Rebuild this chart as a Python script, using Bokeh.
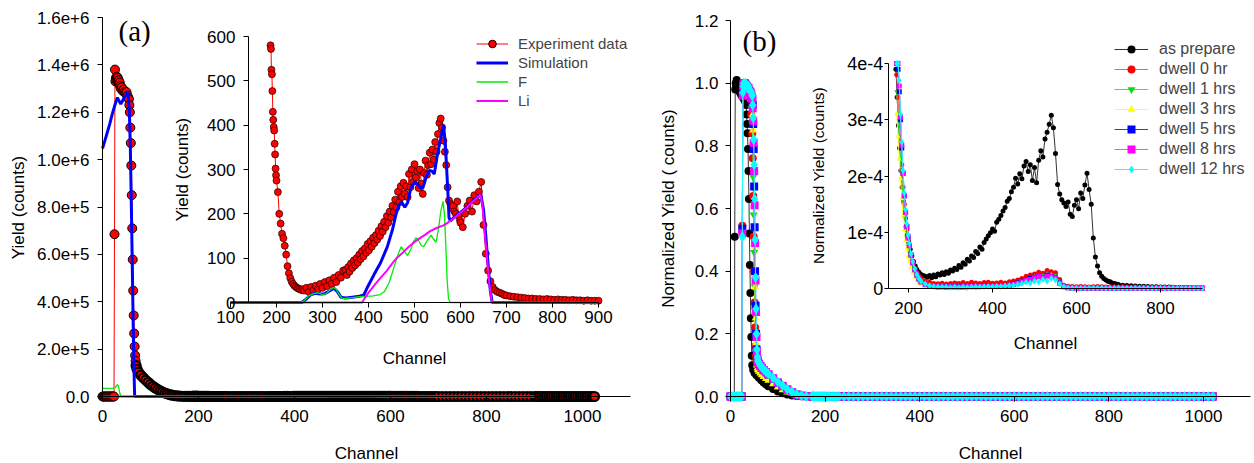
import math
from bokeh.plotting import figure
from bokeh.models import Range1d, LinearAxis, FixedTicker, Label, Legend, LegendItem
from bokeh.layouts import row
from bokeh.embed import file_html
from bokeh.resources import INLINE

FONT = "Liberation Sans"
SERIF = "Liberation Serif"

# ====================== Panel (a) data ======================
a_head_ch = [0, 2, 4, 6, 8, 10, 12, 14, 16, 18, 20, 22, 24,
             25, 26, 27, 28, 29, 30, 31, 32, 33, 34, 35, 36, 37, 38,
             40, 42, 44, 46, 48, 50, 52, 54,
             55, 56, 57, 58, 59, 60, 61, 62, 63, 64, 65, 66, 67, 68, 69, 70,
             72, 75,
             80, 85, 90, 95, 100, 105, 110, 115, 120, 125, 130, 135, 140, 145, 150, 155, 160, 165, 170, 175, 180,
             184]
a_head_y = [0, 0, 0, 0, 0, 0, 0, 0, 0, 0, 0, 0, 0,
            6.85e5, 1.38e6, 1.33e6, 1.345e6, 1.335e6, 1.35e6, 1.34e6, 1.345e6, 1.33e6, 1.335e6, 1.32e6, 1.325e6, 1.31e6, 1.30e6,
            1.305e6, 1.29e6, 1.295e6, 1.285e6, 1.28e6, 1.285e6, 1.27e6, 1.26e6,
            1.255e6, 1.23e6, 1.2e6, 1.135e6, 1.07e6, 9.75e5, 8.5e5, 7.1e5, 5.78e5, 4.47e5, 3.42e5, 2.66e5, 2.11e5, 1.73e5, 1.5e5, 1.3e5,
            1.15e5, 1.03e5,
            9.0e4, 7.9e4, 6.9e4, 6.0e4, 5.1e4, 4.3e4, 3.6e4, 3.0e4, 2.4e4, 1.9e4, 1.45e4, 1.1e4, 8.0e3, 5.5e3, 3.8e3, 2.5e3, 1.6e3, 1.1e3, 850, 720, 640,
            600]

exp_in_ch = (list(range(187, 200)) + list(range(200, 260, 3)) + list(range(260, 350, 5))
             + list(range(350, 600, 3)) + list(range(600, 700, 5)) + list(range(700, 901, 8)))
exp_in_y = [580, 572, 525, 515, 477, 430, 412, 396, 388, 358, 334, 302, 287,
            275, 249, 200, 178, 155, 145, 128, 108, 82, 66, 55, 47, 42, 38, 35, 33, 31, 30, 28, 30,
            27, 33, 24, 35, 27, 38, 30, 42, 33, 46, 37, 50, 42, 56, 46, 62, 56, 72,
            74, 62, 80, 70, 88, 78, 95, 84, 100, 90,
            108, 98, 116, 104, 122, 112, 132, 118, 138, 126,
            146, 134, 152, 142, 162, 150, 172, 160, 182, 170,
            195, 180, 205, 192, 218, 204, 232, 215, 250, 226,
            262, 238, 270, 245, 262, 238, 290, 260, 300, 272,
            312, 282, 296, 258, 300, 268, 245, 292, 320, 288,
            310, 338, 312, 345, 322, 362, 340, 380, 405, 415,
            395, 365, 340, 310, 260, 230, 222, 212, 218, 205,
            200, 228, 195, 185,
            180, 170, 200, 218, 230, 205, 242, 228, 250, 272,
            175, 110, 72, 48, 35, 28, 24, 22, 20, 17,
            16, 14, 13, 12, 11, 10, 9, 9, 8, 8, 7, 8, 7, 6, 7, 6, 6, 5, 6, 5, 5, 4, 5, 4, 4, 4]
a_tail_ch = list(range(905, 1026, 5))
a_tail_y = [4, 3, 4, 3, 3, 4, 3, 3, 2, 3, 3, 2, 3, 2, 2, 3, 2, 2, 2, 3, 2, 2, 2, 2, 2]

sim_head_ch = [0, 5, 10, 15, 20, 25, 31, 34, 38, 41, 45, 48, 52, 54, 56, 58, 60, 62, 64, 66, 67, 70]
sim_head_y = [1.047e6, 1.08e6, 1.115e6, 1.15e6, 1.19e6, 1.225e6, 1.262e6, 1.25e6, 1.235e6, 1.245e6, 1.262e6,
              1.27e6, 1.283e6, 1.265e6, 1.2e6, 1.05e6, 8.2e5, 5.6e5, 3.0e5, 8e4, 0, 0]
sim_in_ch = [100, 255, 265, 275, 285, 295, 305, 315, 325, 332,
             340, 350, 365, 380, 390, 398, 412, 426, 441, 452,
             460, 467, 472, 479, 485, 492, 500, 506, 512, 518,
             525, 532, 538, 543, 550, 556, 563, 567, 570, 573,
             575, 578, 590, 600, 610, 620, 630, 640, 644, 650,
             655, 660, 665, 669, 700, 900]
sim_in_y = [0, 0, 8, 18, 21, 19, 20, 26, 32, 25,
            12, 10, 12, 14, 17, 35, 63, 89, 126, 164,
            200, 222, 226, 215, 225, 258, 272, 268, 260, 258,
            282, 298, 296, 290, 335, 365, 400, 360, 300, 240,
            192, 184, 196, 203, 212, 222, 231, 240, 244, 210,
            150, 85, 25, 0, 0, 0]

f_head_ch = [0, 10, 20, 26, 29, 31, 33, 35, 37, 39, 45]
f_head_y = [3.4e4, 3.4e4, 3.5e4, 3.6e4, 4.5e4, 5.0e4, 4.6e4, 2.5e4, 8e3, 0, 0]
f_in_ch = [100, 255, 262, 270, 280, 290, 300, 308, 316, 324,
           330, 336, 342, 350, 365, 380, 395, 410, 425, 435,
           445, 455, 463, 471, 478, 485, 492, 498, 503, 510,
           515, 520, 528, 536, 542, 547, 552, 557, 562, 565,
           568, 571, 574, 578, 900]
f_in_y = [0, 0, 6, 15, 20, 22, 18, 20, 28, 34,
          30, 18, 10, 9, 11, 13, 14, 15, 18, 25,
          45, 78, 105, 126, 115, 106, 120, 138, 146, 138,
          128, 126, 140, 152, 142, 136, 165, 205, 228, 200,
          130, 50, 8, 0, 0]

li_head_ch = [0, 50]
li_head_y = [0, 0]
li_in_ch = [100, 386, 392, 400, 410, 420, 430, 440, 450, 462,
            475, 487, 498, 510, 522, 534, 548, 563, 575, 585,
            595, 605, 614, 624, 634, 643, 647, 651, 655, 659,
            663, 667, 670, 900]
li_in_y = [0, 0, 10, 22, 35, 48, 60, 72, 86, 101,
           113, 125, 135, 144, 152, 161, 168, 174, 182, 190,
           198, 207, 215, 225, 234, 243, 225, 180, 130, 85,
           40, 8, 0, 0]

a_xticks = [0, 200, 400, 600, 800, 1000]
a_yticks = [0, 200000, 400000, 600000, 800000, 1000000, 1200000, 1400000, 1600000]
a_ytick_labels = ["0.0", "2.0e+5", "4.0e+5", "6.0e+5", "8.0e+5", "1.0e+6", "1.2e+6", "1.4e+6", "1.6e+6"]
a_in_xticks = [100, 200, 300, 400, 500, 600, 700, 800, 900]
a_in_yticks = [0, 100, 200, 300, 400, 500, 600]

# ====================== Panel (b) data ======================
prep_head_ch = [0, 2, 4, 6, 8, 9, 10, 11, 12, 13, 14, 15, 16, 17, 18, 19, 20, 22, 24, 26, 28, 30, 32,
                33, 34, 35, 36, 37, 38, 39, 40, 41, 42, 43, 44, 45, 46,
                48, 51, 55, 60, 65, 70, 75, 80, 90, 100, 110, 120, 130, 140, 150, 160]
prep_head_y = [0, 0, 0, 0, 0, 0.51, 0.98, 1.0, 0.99, 1.01, 0.985, 1.0, 0.99, 0.985, 0.98, 0.975, 0.97,
               0.965, 0.96, 0.955, 0.95, 0.945, 0.94,
               0.93, 0.90, 0.87, 0.84, 0.79, 0.72, 0.63, 0.52, 0.42, 0.33, 0.25, 0.19, 0.13, 0.10,
               0.085, 0.075, 0.068, 0.06, 0.052, 0.045, 0.039, 0.033,
               0.024, 0.016, 0.010, 0.006, 0.003, 0.0015, 0.0008, 0.0005]
prep_in_ch = [170, 173, 176, 179, 182, 185, 188, 191, 194, 197, 200, 204, 208, 212, 216, 220, 225, 230, 235] \
    + list(range(240, 700, 5)) + list(range(700, 901, 10))
prep_in_e5 = [39, 34, 29, 25, 21, 18, 15.5, 13, 11, 9.5, 8.3, 7, 5.8, 4.8, 4.0, 3.4, 2.9, 2.5, 2.3,
              2.2, 2.0, 2.3, 1.9, 2.4, 2.1, 2.6, 2.4, 2.8, 2.5,
              3.0, 2.7, 3.3, 3.1, 3.6, 3.4, 4.1, 3.8, 4.6, 4.3,
              5.2, 4.9, 5.8, 5.5, 6.6, 6.2, 7.4, 7.0, 8.2, 8.8,
              9.4, 9.9, 10.6, 10.2, 11.8, 12.3, 13.0, 13.8, 14.4, 15.5,
              16.0, 17.2, 18.0, 19.6, 18.6, 20.4, 19.5, 21.8, 22.6, 20.8,
              22.0, 19.2, 21.5, 18.8, 22.8, 24.5, 23.4, 26.6, 27.8, 29.2,
              30.8, 28.6, 24.0, 18.5, 16.8, 15.8, 15.2, 14.6, 15.4, 13.2,
              12.8, 14.8, 15.8, 14.2, 17.0, 16.0, 18.4, 20.5, 17.6, 15.0,
              9.0, 5.6, 4.0, 2.8, 2.2, 1.8, 1.5, 1.3, 1.2, 1.0,
              0.9, 0.8,
              0.7, 0.6, 0.55, 0.5, 0.45, 0.4, 0.38, 0.35, 0.3, 0.3, 0.28, 0.25, 0.25, 0.22, 0.2, 0.2, 0.18, 0.18,
              0.15, 0.15, 0.15]

dw_head_ch = [0, 3, 6, 9, 12, 15, 18, 21, 24, 25, 26, 27, 28, 30, 32, 34, 36, 38, 40, 42, 44, 46,
              47, 48, 49, 50, 51, 52, 53, 54, 55, 56, 57, 58, 60, 63, 66, 70, 75, 80,
              90, 100, 110, 120, 130, 140, 150, 160]
dw_in_ch = [172, 175, 178, 181, 184, 187, 190, 193, 196, 199, 202, 206, 210, 215, 220, 225, 230] + list(range(240, 901, 10))
b_tail_ch = list(range(910, 1021, 10))
prep_tail_e5 = [0.14, 0.12, 0.12, 0.1, 0.1, 0.1, 0.08, 0.08, 0.08, 0.06, 0.06, 0.06]

red_head_y = [0, 0, 0, 0, 0, 0, 0, 0, 0, 0.545, 0.98, 1.0, 0.99,
              0.995, 0.99, 0.985, 0.98, 0.97, 0.965, 0.95, 0.90, 0.84,
              0.76, 0.64, 0.51, 0.40, 0.30, 0.22, 0.16, 0.13, 0.115, 0.105, 0.10, 0.097,
              0.093, 0.088, 0.083, 0.077, 0.07, 0.064,
              0.052, 0.04, 0.03, 0.02, 0.012, 0.006, 0.0025, 0.001]
red_in_e5 = [38, 34, 30, 26, 22, 18, 15, 12.5, 10.5, 8.8, 7.4, 5.9, 4.7, 3.6, 2.8, 2.2, 1.8,
             1.3, 1.1, 0.9, 0.85, 0.95, 0.8, 0.9, 1.0, 0.9, 1.05,
             0.9, 1.1, 1.0, 0.9, 1.05, 1.1, 0.95, 1.0, 1.1, 1.0,
             1.2, 1.35, 1.5, 1.8, 2.2, 2.4, 2.6, 2.9, 2.7, 3.2,
             3.0, 2.8, 1.6, 0.6, 0.4, 0.35, 0.3, 0.35, 0.3, 0.25,
             0.3, 0.35, 0.3, 0.25, 0.3, 0.3, 0.25, 0.3, 0.25, 0.2,
             0.25, 0.2, 0.25, 0.2, 0.2, 0.25, 0.2, 0.2, 0.15, 0.2,
             0.2, 0.15, 0.2, 0.15, 0.15, 0.15, 0.15]
red_tail_e5 = [0.15, 0.15, 0.12, 0.15, 0.12, 0.1, 0.12, 0.1, 0.1, 0.1, 0.08, 0.1]

green_head_y = [0, 0, 0, 0, 0, 0, 0, 0, 0, 0.53, 0.97, 0.99, 0.985,
                0.99, 0.985, 0.98, 0.975, 0.97, 0.96, 0.95, 0.92, 0.87,
                0.80, 0.70, 0.58, 0.46, 0.35, 0.26, 0.19, 0.14, 0.115, 0.1, 0.095, 0.09,
                0.087, 0.082, 0.078, 0.072, 0.066, 0.06,
                0.048, 0.037, 0.027, 0.018, 0.01, 0.005, 0.002, 0.0008]
green_in_e5 = [35, 31, 27, 23, 19.5, 16, 13, 10.8, 9, 7.5, 6.3, 5, 3.9, 2.9, 2.1, 1.5, 1.1,
               0.7, 0.5, 0.4, 0.45, 0.4, 0.5, 0.45, 0.5, 0.4, 0.5,
               0.45, 0.5, 0.55, 0.5, 0.45, 0.55, 0.5, 0.6, 0.55, 0.6,
               0.75, 0.9, 1.1, 1.4, 1.8, 1.9, 2.2, 2.4, 2.3, 2.6,
               2.5, 2.3, 1.2, 0.4, 0.2, 0.15, 0.12, 0.15, 0.12, 0.1,
               0.12, 0.1, 0.12, 0.1, 0.08, 0.1, 0.08, 0.1, 0.08, 0.08,
               0.08, 0.06, 0.08, 0.06, 0.07, 0.06, 0.06, 0.05, 0.06, 0.05,
               0.05, 0.06, 0.05, 0.05, 0.04, 0.05, 0.04]
green_tail_e5 = [0.04, 0.05, 0.04, 0.04, 0.03, 0.04, 0.03, 0.03, 0.03, 0.02, 0.03, 0.02]

yellow_head_y = [0, 0, 0, 0, 0, 0, 0, 0, 0, 0.52, 0.96, 0.985, 0.99,
                 0.985, 0.98, 0.975, 0.97, 0.965, 0.96, 0.955, 0.95, 0.93,
                 0.9, 0.85, 0.73, 0.61, 0.48, 0.35, 0.25, 0.17, 0.12, 0.1, 0.09, 0.085,
                 0.08, 0.074, 0.069, 0.063, 0.057, 0.051,
                 0.04, 0.03, 0.021, 0.014, 0.008, 0.004, 0.0015, 0.0006]
yellow_in_e5 = [31, 27, 23, 19.5, 16, 13, 10.5, 8.5, 7, 5.8, 4.8, 3.7, 2.8, 2.0, 1.4, 1.0, 0.7,
                0.4, 0.25, 0.2, 0.15, 0.2, 0.15, 0.2, 0.15, 0.2, 0.2,
                0.2, 0.25, 0.2, 0.25, 0.3, 0.25, 0.3, 0.35, 0.3, 0.4,
                0.5, 0.7, 0.9, 1.2, 1.5, 1.7, 2.0, 2.2, 2.1, 2.5,
                2.4, 2.1, 1.0, 0.3, 0.12, 0.08, 0.06, 0.08, 0.06, 0.05,
                0.06, 0.05, 0.06, 0.05, 0.04, 0.05, 0.04, 0.05, 0.04, 0.04,
                0.04, 0.03, 0.04, 0.03, 0.04, 0.03, 0.03, 0.03, 0.03, 0.02,
                0.03, 0.02, 0.03, 0.02, 0.02, 0.02, 0.02]
yellow_tail_e5 = [0.02, 0.02, 0.02, 0.01, 0.02, 0.01, 0.01, 0.01, 0.01, 0.01, 0.01, 0.01]

blue_head_y = [0, 0, 0, 0, 0, 0, 0, 0, 0, 0.535, 0.97, 1.0, 0.995,
               1.0, 0.995, 0.99, 0.985, 0.98, 0.975, 0.97, 0.96, 0.95,
               0.93, 0.87, 0.79, 0.67, 0.54, 0.40, 0.29, 0.20, 0.15, 0.125, 0.115, 0.11,
               0.104, 0.097, 0.091, 0.084, 0.077, 0.07,
               0.057, 0.044, 0.033, 0.022, 0.013, 0.006, 0.0025, 0.001]
blue_in_e5 = [40, 39, 35, 30, 25, 20.5, 16.5, 13.5, 11, 9.2, 7.7, 6, 4.6, 3.4, 2.4, 1.7, 1.2,
              0.7, 0.45, 0.35, 0.3, 0.35, 0.3, 0.35, 0.3, 0.35, 0.3,
              0.35, 0.4, 0.35, 0.4, 0.45, 0.4, 0.5, 0.45, 0.5, 0.55,
              0.6, 0.8, 1.0, 1.3, 1.6, 1.8, 2.0, 2.2, 2.0, 2.4,
              2.2, 2.0, 1.0, 0.35, 0.15, 0.1, 0.08, 0.1, 0.08, 0.08,
              0.08, 0.06, 0.08, 0.06, 0.07, 0.06, 0.05, 0.06, 0.05, 0.05,
              0.05, 0.04, 0.05, 0.04, 0.05, 0.04, 0.04, 0.04, 0.03, 0.04,
              0.04, 0.03, 0.04, 0.03, 0.03, 0.03, 0.03]
blue_tail_e5 = [0.03, 0.03, 0.03, 0.02, 0.03, 0.02, 0.02, 0.02, 0.02, 0.02, 0.02, 0.01]

magenta_head_y = [0, 0, 0, 0, 0, 0, 0, 0, 0, 0.52, 0.96, 0.99, 1.0,
                  0.99, 0.995, 0.985, 0.98, 0.985, 0.975, 0.97, 0.965, 0.95,
                  0.92, 0.88, 0.81, 0.72, 0.61, 0.49, 0.37, 0.27, 0.19, 0.145, 0.12, 0.112,
                  0.105, 0.098, 0.092, 0.085, 0.078, 0.071,
                  0.058, 0.045, 0.034, 0.023, 0.013, 0.006, 0.0025, 0.001]
magenta_in_e5 = [40, 40, 36, 30.5, 25.5, 20.5, 16.5, 13.5, 11, 9, 7.6, 5.9, 4.6, 3.3, 2.4, 1.7, 1.2,
                 0.75, 0.5, 0.35, 0.3, 0.3, 0.25, 0.3, 0.3, 0.25, 0.3,
                 0.3, 0.35, 0.3, 0.35, 0.4, 0.35, 0.45, 0.4, 0.45, 0.5,
                 0.6, 0.7, 0.9, 1.2, 1.5, 1.6, 1.9, 2.1, 1.9, 2.2,
                 2.1, 1.9, 0.9, 0.3, 0.12, 0.1, 0.08, 0.08, 0.07, 0.08,
                 0.07, 0.06, 0.07, 0.06, 0.05, 0.06, 0.05, 0.05, 0.05, 0.04,
                 0.05, 0.04, 0.04, 0.05, 0.04, 0.04, 0.04, 0.03, 0.04, 0.03,
                 0.03, 0.04, 0.03, 0.03, 0.03, 0.03, 0.03]
magenta_tail_e5 = [0.03, 0.03, 0.02, 0.03, 0.02, 0.02, 0.02, 0.02, 0.02, 0.01, 0.02, 0.01]

cyan_head_y = [0, 0, 0, 0, 0, 0, 0, 0, 0, 0.51, 0.97, 0.99, 1.0,
               0.995, 1.0, 0.99, 0.985, 0.99, 0.98, 0.975, 0.97, 0.96,
               0.93, 0.89, 0.82, 0.74, 0.63, 0.50, 0.38, 0.28, 0.20, 0.15, 0.125, 0.115,
               0.108, 0.10, 0.094, 0.087, 0.08, 0.073,
               0.06, 0.047, 0.035, 0.024, 0.014, 0.007, 0.003, 0.001]
cyan_in_e5 = [40, 40, 37, 31, 26, 21, 17, 14, 11.5, 9.5, 8, 6.2, 4.8, 3.5, 2.5, 1.8, 1.3,
              0.8, 0.5, 0.35, 0.3, 0.25, 0.25, 0.2, 0.25, 0.2, 0.25,
              0.2, 0.25, 0.3, 0.25, 0.3, 0.35, 0.3, 0.4, 0.35, 0.45,
              0.5, 0.6, 0.7, 0.9, 1.1, 1.0, 1.3, 1.2, 1.6, 1.3,
              1.8, 1.5, 0.8, 0.3, 0.15, 0.1, 0.1, 0.08, 0.1, 0.08,
              0.08, 0.1, 0.08, 0.06, 0.08, 0.06, 0.08, 0.06, 0.05, 0.06,
              0.05, 0.06, 0.05, 0.05, 0.04, 0.05, 0.04, 0.05, 0.04, 0.04,
              0.04, 0.05, 0.04, 0.04, 0.03, 0.04, 0.03]
cyan_tail_e5 = [0.03, 0.03, 0.03, 0.02, 0.03, 0.02, 0.02, 0.02, 0.02, 0.02, 0.01, 0.02]

b_xticks = [0, 200, 400, 600, 800, 1000]
b_yticks = [0, 0.2, 0.4, 0.6, 0.8, 1.0, 1.2]
b_ytick_labels = ["0.0", "0.2", "0.4", "0.6", "0.8", "1.0", "1.2"]
b_in_xticks = [200, 400, 600, 800]
b_in_yticks = [0, 0.0001, 0.0002, 0.0003, 0.0004]
b_in_ytick_labels = ["0", "1e-4", "2e-4", "3e-4", "4e-4"]

b_series = [
    ("dwell 0 hr", "#ff5a5a", "circle", "#ff0000", red_head_y, red_in_e5, red_tail_e5),
    ("dwell 1 hrs", "#33ee33", "inverted_triangle", "#00e000", green_head_y, green_in_e5, green_tail_e5),
    ("dwell 3 hrs", "#ffff33", "triangle", "#ffff00", yellow_head_y, yellow_in_e5, yellow_tail_e5),
    ("dwell 5 hrs", "#3333ff", "square", "#0000ff", blue_head_y, blue_in_e5, blue_tail_e5),
    ("dwell 8 hrs", "#ff44ff", "square", "#ff00ff", magenta_head_y, magenta_in_e5, magenta_tail_e5),
    ("dwell 12 hrs", "#22ffff", "diamond", "#00ffff", cyan_head_y, cyan_in_e5, cyan_tail_e5),
]


# ====================== helpers ======================
def lin_range(v0, p0, v1, p1, q0, q1):
    k = (v1 - v0) / (p1 - p0)
    return Range1d(start=v0 + (q0 - p0) * k, end=v0 + (q1 - p0) * k)


def make_axis(fixed, bounds, ticks, size, tick_out, standoff, overrides=None, xr="default", yr="default"):
    ax = LinearAxis(fixed_location=fixed, bounds=bounds, ticker=FixedTicker(ticks=ticks, minor_ticks=[]),
                    x_range_name=xr, y_range_name=yr)
    ax.major_label_text_font = FONT
    ax.major_label_text_font_size = size
    ax.major_label_text_color = "black"
    ax.axis_line_color = "black"
    ax.axis_line_width = 1
    ax.major_tick_line_color = "black"
    ax.major_tick_out = tick_out
    ax.major_tick_in = 0
    ax.minor_tick_line_color = None
    ax.major_label_standoff = standoff
    if overrides:
        ax.major_label_overrides = overrides
    return ax


def add_text(p, fl, fb, px, py, text, size, angle=0.0, font=FONT, align="center"):
    p.add_layout(Label(x=px - fl, y=fb - py, x_units="screen", y_units="screen", text=text,
                       text_font=font, text_font_size=size, text_align=align, text_baseline="middle",
                       angle=angle, text_color="black"))


def bare_figure(w, h, xr, yr):
    p = figure(width=w, height=h, x_range=xr, y_range=yr,
               x_axis_location=None, y_axis_location=None, toolbar_location=None, output_backend="svg",
               min_border_left=0, min_border_right=0, min_border_top=0, min_border_bottom=0)
    p.title.visible = False
    p.outline_line_color = None
    p.grid.visible = False
    return p


# ====================== Panel (a) ======================
WA, H = 637, 463
pa = bare_figure(WA, H, lin_range(0, 102, 1000, 582, 0, WA), lin_range(0, 396, 1.6e6, 17, H, 0))
pa.extra_x_ranges = {"ix": lin_range(100, 230, 900, 598, 0, WA)}
pa.extra_y_ranges = {"iy": lin_range(0, 302, 600, 36, H, 0)}

pa.add_layout(make_axis(0, (0, 1100), a_xticks, "17px", 5, 8), "below")
pa.add_layout(make_axis(0, (0, 1.6e6), a_yticks, "17px", 5, 8,
                        overrides=dict(zip(a_yticks, a_ytick_labels))), "left")
pa.add_layout(make_axis(0, (100, 900), a_in_xticks, "17px", 5, 3, xr="ix", yr="iy"), "below")
pa.add_layout(make_axis(139, (0, 600), a_in_yticks, "17px", 5, 8, xr="ix", yr="iy"), "left")

exp_ch = a_head_ch + exp_in_ch + a_tail_ch
exp_y = a_head_y + exp_in_y + a_tail_y
# the densely packed low part of the spectrum reads as a dark band: drawn with heavier outlines
split = next(i for i, c in enumerate(exp_ch) if c >= 70)
a_exp_line = pa.line(exp_ch, exp_y, line_color="#ff0000", line_width=1)
a_exp_sc = pa.scatter(exp_ch[:split], exp_y[:split], marker="circle", size=9, fill_color="#ff0000",
                      line_color="#000000", line_width=1.0)
pa.scatter(exp_ch[split:], exp_y[split:], marker="circle", size=9, fill_color="#ff0000",
           line_color="#000000", line_width=2.2)
a_sim = pa.line(sim_head_ch + sim_in_ch, sim_head_y + sim_in_y, line_color="#0000ff", line_width=3)
a_f = pa.line(f_head_ch + f_in_ch, f_head_y + f_in_y, line_color="#00ee00", line_width=1.3)
a_li = pa.line(li_head_ch + li_in_ch, li_head_y + li_in_y, line_color="#ff00ff", line_width=2)

pa.line(exp_in_ch, exp_in_y, line_color="#ff0000", line_width=1, x_range_name="ix", y_range_name="iy")
pa.scatter(exp_in_ch, exp_in_y, marker="circle", size=7, fill_color="#ff0000", line_color="#1a0000",
           line_width=0.7, x_range_name="ix", y_range_name="iy")
pa.line(sim_in_ch, sim_in_y, line_color="#0000ff", line_width=3, x_range_name="ix", y_range_name="iy")
pa.line(f_in_ch, f_in_y, line_color="#00ee00", line_width=1.3, x_range_name="ix", y_range_name="iy")
pa.line(li_in_ch, li_in_y, line_color="#ff00ff", line_width=2, x_range_name="ix", y_range_name="iy")

leg_a = Legend(items=[LegendItem(label="Experiment data", renderers=[a_exp_line, a_exp_sc]),
                      LegendItem(label="Simulation", renderers=[a_sim]),
                      LegendItem(label="F", renderers=[a_f]),
                      LegendItem(label="Li", renderers=[a_li])],
               location=(476, H - 109.5), glyph_width=32, glyph_height=19, label_height=19,
               label_standoff=10, spacing=0, padding=0, margin=0, border_line_color=None,
               background_fill_alpha=0, label_text_font=FONT, label_text_font_size="15px")
pa.add_layout(leg_a)

add_text(pa, 0, H, 18, 207, "Yield (counts)", "17px", angle=math.pi / 2)
add_text(pa, 0, H, 366, 453, "Channel", "17px")
add_text(pa, 0, H, 182, 169, "Yield (counts)", "17px", angle=math.pi / 2)
add_text(pa, 0, H, 414, 358, "Channel", "17px")
add_text(pa, 0, H, 118, 30, "(a)", "29px", font=SERIF, align="left")

# ====================== Panel (b) ======================
OX = WA
WB = 1254 - OX
pb = bare_figure(WB, H, lin_range(0, 730, 1000, 1203, OX, 1254), lin_range(0, 396, 1.2, 20, H, 0))
pb.extra_x_ranges = {"ix": lin_range(200, 908, 800, 1160, OX, 1254)}
pb.extra_y_ranges = {"iy": lin_range(0, 288, 4e-4, 63, H, 0)}

pb.add_layout(make_axis(0, (0, 1100), b_xticks, "17px", 5, 8), "below")
pb.add_layout(make_axis(0, (0, 1.2), b_yticks, "17px", 5, 7,
                        overrides=dict(zip(b_yticks, b_ytick_labels))), "left")
pb.add_layout(make_axis(0, (152, 900), b_in_xticks, "17px", 4, 9, xr="ix", yr="iy"), "below")
pb.add_layout(make_axis(152, (0, 4e-4), b_in_yticks, "18px", 4, 1,
                        overrides=dict(zip(b_in_yticks, b_in_ytick_labels)), xr="ix", yr="iy"), "left")

legend_items_b = []
prep_in = [v * 1e-5 for v in prep_in_e5]
prep_tail = [v * 1e-5 for v in prep_tail_e5]
pb.line(prep_head_ch + prep_in_ch + b_tail_ch, prep_head_y + prep_in + prep_tail, line_color="#333333", line_width=1)
pb.scatter(prep_head_ch + prep_in_ch + b_tail_ch, prep_head_y + prep_in + prep_tail, marker="circle", size=8,
           fill_color="black", line_color="black", line_width=0)
l_in = pb.line(prep_in_ch, prep_in, line_color="#333333", line_width=1, x_range_name="ix", y_range_name="iy")
s_in = pb.scatter(prep_in_ch, prep_in, marker="circle", size=5, fill_color="black", line_color="black",
                  line_width=0, x_range_name="ix", y_range_name="iy")
legend_items_b.append(LegendItem(label="as prepare", renderers=[l_in, s_in]))

for label, lcol, mk, mcol, head, ins, tail in b_series:
    ins_v = [v * 1e-5 for v in ins]
    tail_v = [v * 1e-5 for v in tail]
    xs = dw_head_ch + dw_in_ch + b_tail_ch
    ys = head + ins_v + tail_v
    msize = 11 if mk == "diamond" else 8
    pb.line(xs, ys, line_color=lcol, line_width=1)
    pb.scatter(xs, ys, marker=mk, size=msize, fill_color=mcol, line_color=mcol, line_width=0)
    l_in = pb.line(dw_in_ch, ins_v, line_color=lcol, line_width=1, x_range_name="ix", y_range_name="iy")
    s_in = pb.scatter(dw_in_ch, ins_v, marker=mk, size=7 if mk == "diamond" else 5, fill_color=mcol,
                      line_color=mcol, line_width=0, x_range_name="ix", y_range_name="iy")
    legend_items_b.append(LegendItem(label=label, renderers=[l_in, s_in]))

leg_b = Legend(items=legend_items_b, location=(1114 - OX, H - 179), glyph_width=34, glyph_height=20,
               label_height=20, label_standoff=11, spacing=0, padding=0, margin=0, border_line_color=None,
               background_fill_alpha=0, label_text_font=FONT, label_text_font_size="16px")
pb.add_layout(leg_b)

add_text(pb, OX, H, 668, 208, "Normalized Yield ( counts)", "17px", angle=math.pi / 2)
add_text(pb, OX, H, 990, 453, "Channel", "17px")
add_text(pb, OX, H, 818, 175, "Normalized Yield (counts)", "15.5px", angle=math.pi / 2)
add_text(pb, OX, H, 1045, 343, "Channel", "17px")
add_text(pb, OX, H, 742, 40, "(b)", "29px", font=SERIF, align="left")

layout = row(pa, pb)
open("out.html", "w").write(file_html(layout, INLINE))
